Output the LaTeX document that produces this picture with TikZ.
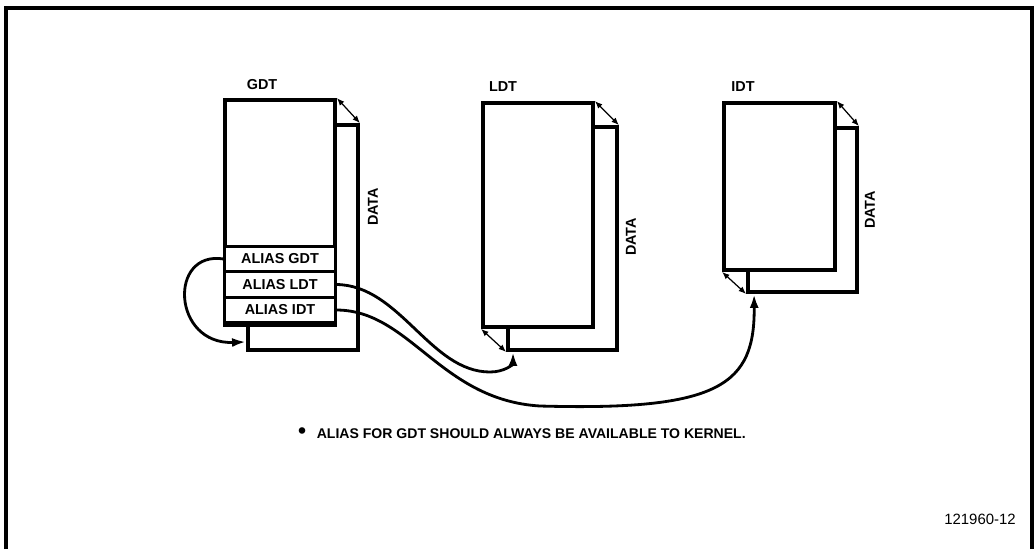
\documentclass[tikz,border=0pt]{standalone}
\usepackage{fontspec}
\setmainfont{Liberation Sans}
\usetikzlibrary{arrows.meta}

\begin{document}
\begin{tikzpicture}[x=0.02cm,y=-0.02cm,>=Latex,
  every node/.append style={font=\fontsize{8.2}{9.8}\selectfont\bfseries},
  tbl/.style={draw,line width=2.2pt,fill=white,inner sep=0pt},
  row/.style={draw,line width=1.4pt,fill=white,inner sep=0pt,minimum width=2.2cm,minimum height=0.5cm},
  link/.style={->,line width=1.6pt,>={Latex[length=2.8mm,width=1.8mm]}},
  gap/.style={{Latex[length=1.5mm,width=1.2mm]}-{Latex[length=1.5mm,width=1.2mm]},line width=0.7pt}]
  \useasboundingbox (0,0) rectangle (1036,549);
  \draw[line width=1.8pt] (6,549) -- (6,8) -- (1032,8) -- (1032,549);

  % GDT
  \node[tbl,minimum width=2.2cm,minimum height=4.5cm] (gb) at (303,237.5) {};
  \node[tbl,minimum width=2.2cm,minimum height=4.46cm] (gf) at (280,211.5) {};
  \node[row] (ag) at (280,259) {ALIAS GDT};
  \node[row] (al) at (280,284.5) {ALIAS LDT};
  \node[row] (ai) at (280,310) {ALIAS IDT};
  \draw[tbl] (gf.south west) rectangle (gf.south east);
  \node (gdt) at (262,85) {GDT};
  \node[rotate=90] (gd) at (373,207) {DATA};
  \draw[gap] (gf.north east) -- (gb.north east);

  % LDT
  \node[tbl,minimum width=2.18cm,minimum height=4.46cm] (lb) at (562.5,238.5) {};
  \node[tbl,minimum width=2.2cm,minimum height=4.48cm] (lf) at (538,215) {};
  \node (ldt) at (503,87) {LDT};
  \node[rotate=90] (ld) at (631,237) {DATA};
  \draw[gap] (lf.north east) -- (lb.north east);
  \draw[gap] (lf.south west) -- (lb.south west);

  % IDT
  \node[tbl,minimum width=2.18cm,minimum height=3.28cm] (ib) at (802.5,210) {};
  \node[tbl,minimum width=2.22cm,minimum height=3.34cm] (if) at (779.5,186.5) {};
  \node (idt) at (743,87) {IDT};
  \node[rotate=90] (id) at (870,210) {DATA};
  \draw[gap] (if.north east) -- (ib.north east);
  \draw[gap] (if.south west) -- (ib.south west);

  % alias links
  \coordinate (gin) at ([yshift=0.2cm]gb.south west);
  \coordinate (lin) at ([xshift=0.14cm]lb.south west);
  \coordinate (iin) at ([xshift=0.16cm]ib.south west);
  \draw[link] (ag.west) .. controls (168,250) and (172,345) .. (gin);
  \draw[link] (al.east) .. controls (400,285) and (430,372) .. (490,372)
    .. controls (505,372) and (513,364) .. (lin);
  \draw[link] (ai.east) .. controls (410,310) and (440,400) .. (540,406)
    .. controls (720,411) and (755,385) .. (iin);

  \node[font=\fontsize{8}{9.6}\selectfont\bfseries] (note) at (522,433) {{\fontsize{13}{13}\selectfont\textbullet}\hspace{6pt}ALIAS FOR GDT SHOULD ALWAYS BE AVAILABLE TO KERNEL.};
  \node[font=\fontsize{8.5}{10}\selectfont] (fig) at (980,519) {121960-12};
\end{tikzpicture}
\end{document}
